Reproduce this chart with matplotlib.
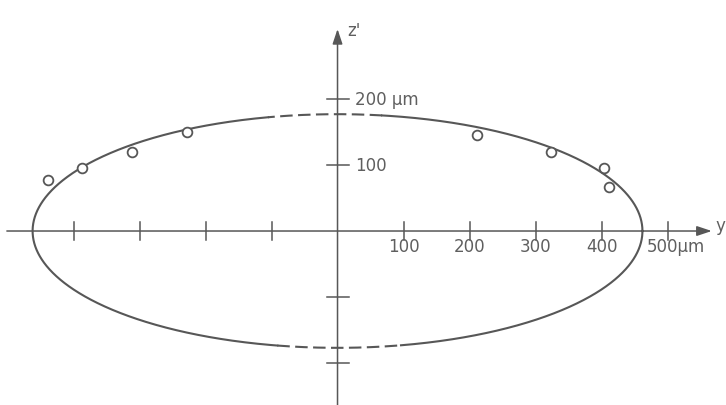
import matplotlib.pyplot as plt
import numpy as np

# fitted ellipse (micrometres) and measured points
semi_y = 462
semi_z = 177
gap_top = (-105, 67)      # dashed stretch on the upper arc
gap_bottom = (-90, 95)    # dashed stretch on the lower arc

pts_y = [-438, -387, -312, -228, 211, 323, 403, 412]
pts_z = [78, 96, 119, 150, 146, 119, 96, 66]

y_ticks = [-400, -300, -200, -100, 100, 200, 300, 400, 500]
y_labels = ['100', '200', '300', '400']
z_ticks = [-200, -100, 100, 200]

ink = '#575757'
txt = '#5f5f5f'

fig = plt.figure(figsize=(7.26, 4.06), dpi=100)
ax = fig.add_axes([0, 0, 1, 1])
ax.set_xlim(-511.4, 588.6)
ax.set_ylim(-263.6, 351.5)
ax.axis('off')

# axes with arrow heads
ax.annotate('', xy=(567, 0), xytext=(-501, 0),
            arrowprops=dict(arrowstyle='-|>,head_length=0.9,head_width=0.3',
                            color=ink, lw=1.1, shrinkA=0, shrinkB=0))
ax.annotate('', xy=(0, 306), xytext=(0, -270),
            arrowprops=dict(arrowstyle='-|>,head_length=0.9,head_width=0.3',
                            color=ink, lw=1.1, shrinkA=0, shrinkB=0))

for t in y_ticks:
    ax.plot([t, t], [-13.6, 13.6], color=ink, lw=1.1)
for t in z_ticks:
    ax.plot([-16, 17], [t, t], color=ink, lw=1.1)

# ellipse: solid where measured, dashed across the gaps near the z' axis
th = np.linspace(0, 2 * np.pi, 2000)
ey = semi_y * np.cos(th)
ez = semi_z * np.sin(th)
in_gap = ((ez > 0) & (ey > gap_top[0]) & (ey < gap_top[1])) | \
         ((ez < 0) & (ey > gap_bottom[0]) & (ey < gap_bottom[1]))
# widen each mask by one sample so the pieces meet
gap_w = in_gap | np.roll(in_gap, 1) | np.roll(in_gap, -1)
ax.plot(ey, np.where(in_gap, np.nan, ez), color=ink, lw=1.5)
ax.plot(ey, np.where(gap_w, ez, np.nan), color=ink, lw=1.5, ls=(0, (6, 2.6)))

ax.plot(pts_y, pts_z, 'o', ms=7, mfc='white', mec=ink, mew=1.3, zorder=4)

# labels
for t, lab in zip([100, 200, 300, 400], y_labels):
    ax.text(t, -22.7, lab, ha='center', va='center', fontsize=12, color=txt)
ax.text(469, -22.7, '500µm', ha='left', va='center', fontsize=12, color=txt)
ax.text(26, 200, '200 µm', ha='left', va='center', fontsize=12, color=txt)
ax.text(26, 100, '100', ha='left', va='center', fontsize=12, color=txt)
ax.text(15, 305, "z'", ha='left', va='center', fontsize=12, color=txt)
ax.text(573, 9, 'y', ha='left', va='center', fontsize=12, color=txt)

fig.savefig('out.png', dpi=100, facecolor='white')
